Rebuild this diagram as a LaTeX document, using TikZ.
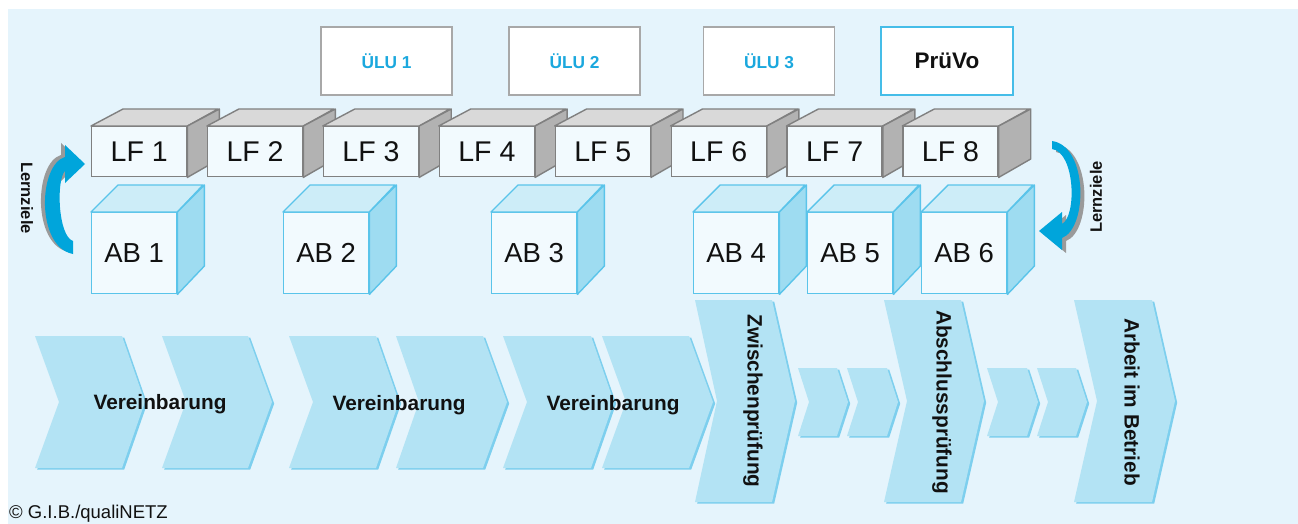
\documentclass[tikz,border=0pt]{standalone}
\usepackage{fontspec}
\setmainfont{Liberation Sans}
\definecolor{panel}{HTML}{E5F4FC}
\definecolor{chevfill}{HTML}{B3E3F4}
\definecolor{chevshade}{HTML}{7DCFEE}
\definecolor{lfline}{HTML}{808080}
\definecolor{lffront}{HTML}{F2FAFE}
\definecolor{lftopc}{HTML}{D9D9D9}
\definecolor{lfsidec}{HTML}{B2B2B2}
\definecolor{abline}{HTML}{5AC4EA}
\definecolor{abfront}{HTML}{F2FAFE}
\definecolor{abtopc}{HTML}{CDEDF8}
\definecolor{absidec}{HTML}{9EDCF1}
\definecolor{ulugray}{HTML}{A8A8A8}
\definecolor{ulutext}{HTML}{1BA8DE}
\definecolor{pruline}{HTML}{45BDE8}
\definecolor{arrowblue}{HTML}{00A5DB}
\definecolor{arrowshade}{HTML}{9A9A9A}
\definecolor{ink}{HTML}{111111}

% chevron: left x, top y, bottom y, top-right x, tip depth, notch depth
\newcommand\chevshape[6]{%
  \fill[chevshade] ([shift={(2.2,1.6)}]#1,#2) -- ([shift={(2.2,1.6)}]#4,#2)
    -- ([shift={(2.2,1.6)}]{#4+#5},{(#2+#3)/2}) -- ([shift={(2.2,1.6)}]#4,#3)
    -- ([shift={(2.2,1.6)}]#1,#3) -- ([shift={(2.2,1.6)}]{#1+#6},{(#2+#3)/2}) -- cycle;
  \fill[chevfill] (#1,#2) -- (#4,#2) -- ({#4+#5},{(#2+#3)/2}) -- (#4,#3)
    -- (#1,#3) -- ({#1+#6},{(#2+#3)/2}) -- cycle;
}

\begin{document}
\begin{tikzpicture}[x=1pt,y=-1pt,
  lfbox/.style={draw=lfline, line width=1.4pt, fill=lffront, minimum width=95pt,
    minimum height=50pt, inner sep=0pt, anchor=north west, text=ink,
    font=\fontsize{28.5}{30}\selectfont},
  lftop/.style={draw=lfline, line width=1.4pt, fill=lftopc, line join=round},
  lfside/.style={draw=lfline, line width=1.4pt, fill=lfsidec, line join=round},
  abbox/.style={draw=abline, line width=1.4pt, fill=abfront, minimum width=85pt,
    minimum height=81pt, inner sep=0pt, anchor=north west, text=ink,
    font=\fontsize{27.5}{29}\selectfont},
  abtop/.style={draw=abline, line width=1.4pt, fill=abtopc, line join=round},
  abside/.style={draw=abline, line width=1.4pt, fill=absidec, line join=round},
  ulubox/.style={draw=ulugray, line width=1.2pt, fill=white, minimum width=131pt,
    minimum height=68pt, inner sep=0pt, text=ulutext,
    font=\fontsize{17.3}{19}\selectfont\bfseries},
  prubox/.style={draw=pruline, line width=1.2pt, fill=white, minimum width=132pt,
    minimum height=68pt, inner sep=0pt, text=ink,
    font=\fontsize{22.5}{24}\selectfont\bfseries},
  steplabel/.style={inner sep=0pt, text=ink, font=\fontsize{20.8}{23}\selectfont\bfseries},
  sidelabel/.style={inner sep=0pt, text=ink, font=\fontsize{16.5}{18}\selectfont\bfseries},
  bluearrow/.style={fill=arrowblue},
  arrowshadow/.style={fill=arrowshade}]

\useasboundingbox (0,0) rectangle (1298,524);
\fill[panel] (8,9) rectangle (1298,524);

% process chevrons
\chevshape{35}{336}{468}{122}{23}{24}
\chevshape{162}{336}{468}{248}{24}{24}
\chevshape{289}{336}{468}{376}{23}{24}
\chevshape{396}{336}{468}{483}{24}{23}
\chevshape{503}{336}{468}{591}{23}{24}
\chevshape{602}{336}{468}{689}{24}{24}
\chevshape{695}{300}{502}{772}{23}{22}
\chevshape{798}{368}{436}{837}{11}{11}
\chevshape{847}{368}{436}{887}{11}{11}
\chevshape{884}{300}{502}{961}{23}{23}
\chevshape{987}{368}{436}{1027}{11}{11}
\chevshape{1037}{368}{436}{1076}{11}{11}
\chevshape{1074}{300}{502}{1152}{23}{23}

\node[steplabel] (v1) at (160,404) {Vereinbarung};
\node[steplabel] (v2) at (399,405) {Vereinbarung};
\node[steplabel] (v3) at (613,405) {Vereinbarung};
\node[steplabel, rotate=-90] (zp) at (753,401) {Zwischenprüfung};
\node[steplabel, rotate=-90] (ap) at (942,402) {Abschlussprüfung};
\node[steplabel, rotate=-90] (ab) at (1132,402) {Arbeit im Betrieb};

% top boxes
\node[ulubox] (ulu1) at (386.5,61) {ÜLU 1};
\node[ulubox] (ulu2) at (574.5,61) {ÜLU 2};
\node[ulubox] (ulu3) at (769,61) {ÜLU 3};
\node[prubox] (pruvo) at (947,61) {PrüVo};

% learning-field blocks
\foreach \i/\x in {1/91,2/206.9,3/322.8,4/438.7,5/554.6,6/670.5,7/786.4,8/902.3}{
  \node[lfbox] (lf\i) at (\x,126) {LF \i};
  \draw[lftop] (lf\i.north west) -- ++(32,-17) -- ++(95,0) -- (lf\i.north east) -- cycle;
  \draw[lfside] (lf\i.north east) -- ++(32,-17) -- ++(0,50) -- (lf\i.south east) -- cycle;
}

% work-order cubes
\foreach \i/\x in {1/91,2/283,3/491,4/693,5/807,6/921}{
  \node[abbox] (ab\i) at (\x,212) {AB \i};
  \draw[abtop] (ab\i.north west) -- ++(27,-27) -- ++(85,0) -- (ab\i.north east) -- cycle;
  \draw[abside] (ab\i.north east) -- ++(27,-27) -- ++(0,81) -- (ab\i.south east) -- cycle;
}

% curved arrow on the left, up to LF 1
\begin{scope}[shift={(-4,-2)}]
  \path[arrowshadow] (73,254) .. controls (36,247) and (38,165) .. (65,157)
    -- (65,145) -- (85,164) -- (65,183) -- (65,171)
    .. controls (56,180) and (58,236) .. (73,241) -- cycle;
\end{scope}
\path[bluearrow] (73,254) .. controls (36,247) and (38,165) .. (65,157)
  -- (65,145) -- (85,164) -- (65,183) -- (65,171)
  .. controls (56,180) and (58,236) .. (73,241) -- cycle;
\node[sidelabel, rotate=-90] (lz1) at (27,198) {Lernziele};

% curved arrow on the right, down to AB 6
\begin{scope}[shift={(4,3)}]
  \path[arrowshadow] (1052,141) .. controls (1088,146) and (1088,228) .. (1062,238)
    -- (1062,250) -- (1039,231) -- (1062,212) -- (1062,224)
    .. controls (1077,216) and (1075,152) .. (1052,149) -- cycle;
\end{scope}
\path[bluearrow] (1052,141) .. controls (1088,146) and (1088,228) .. (1062,238)
  -- (1062,250) -- (1039,231) -- (1062,212) -- (1062,224)
  .. controls (1077,216) and (1075,152) .. (1052,149) -- cycle;
\node[sidelabel, rotate=90] (lz2) at (1096,197) {Lernziele};

\node[inner sep=0pt, anchor=base west, text=ink, font=\fontsize{18.5}{20}\selectfont]
  (copy) at (9,518) {© G.I.B./qualiNETZ};
\end{tikzpicture}
\end{document}
